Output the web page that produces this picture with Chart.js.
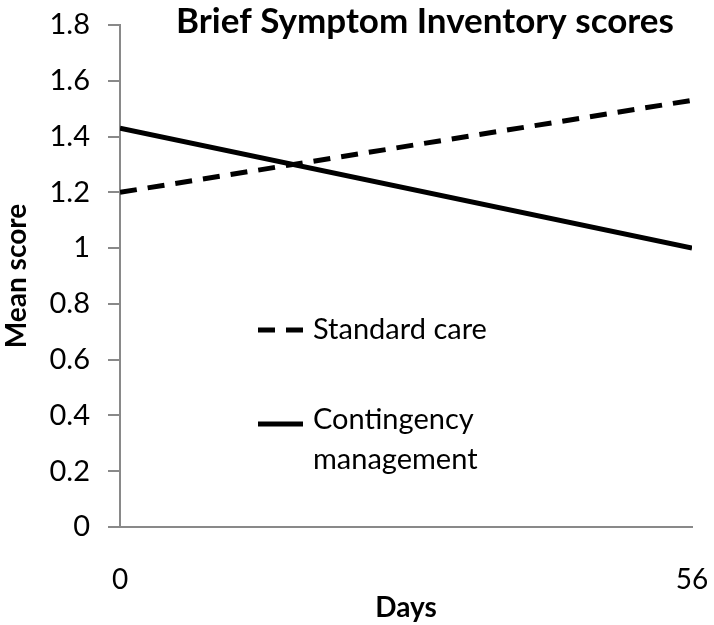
<!DOCTYPE html>
<html>
<head>
<meta charset="utf-8">
<script src="https://cdn.jsdelivr.net/npm/chart.js@4"></script>
<style>
  html, body { margin: 0; padding: 0; background: #fff; }
  #wrap { width: 714px; height: 625px; }
</style>
</head>
<body>
<div id="wrap"><canvas id="bsiChart" width="714" height="625"></canvas></div>
<script>
const days = [0, 56];
const standardCare = [1.2, 1.53];
const contingency = [1.43, 1.0];
const seriesNames = ['Standard care', ['Contingency', 'management']];
const xTicks = [0, 56];
const chartTitle = 'Brief Symptom Inventory scores';

const FONT = 'Lato, "Open Sans", sans-serif';
const axisGrey = '#898989';

// legend and title sit inside the plot area, so they are drawn by hand
const insideText = {
    id: 'insideText',
    afterDraw(chart) {
        const c = chart.ctx;
        c.save();
        c.fillStyle = '#000';
        c.font = 'bold 35px ' + FONT;
        c.textAlign = 'center';
        c.textBaseline = 'middle';
        c.fillText(chartTitle, 425, 22);

        c.font = '29px ' + FONT;
        c.textAlign = 'left';
        const rows = [{y: 330, lines: [330]}, {y: 424, lines: [420, 460]}];
        chart.data.datasets.forEach((ds, i) => {
            const r = rows[i];
            c.beginPath();
            c.strokeStyle = ds.borderColor;
            c.lineWidth = ds.borderWidth;
            c.setLineDash(ds.borderDash || []);
            c.moveTo(258, r.y);
            c.lineTo(303, r.y);
            c.stroke();
            c.setLineDash([]);
            const lbl = Array.isArray(ds.label) ? ds.label : [ds.label];
            lbl.forEach((t, k) => c.fillText(t, 313, r.lines[k]));
        });
        c.restore();
    }
};

new Chart(document.getElementById('bsiChart'), {
    type: 'line',
    data: {
        datasets: [{
            label: seriesNames[0],
            data: days.map((d, i) => ({x: d, y: standardCare[i]})),
            borderColor: '#000',
            borderWidth: 5,
            borderDash: [17, 11],
            pointRadius: 0
        }, {
            label: seriesNames[1],
            data: days.map((d, i) => ({x: d, y: contingency[i]})),
            borderColor: '#000',
            borderWidth: 5,
            pointRadius: 0
        }]
    },
    options: {
        responsive: false,
        animation: false,
        layout: {padding: {top: 25, right: 22, left: 0, bottom: 0}},
        plugins: {
            legend: {display: false},
            tooltip: {enabled: false}
        },
        scales: {
            x: {
                type: 'linear',
                min: 0,
                max: 56,
                afterBuildTicks: s => { s.ticks = xTicks.map(v => ({value: v})); },
                afterFit: s => { s.height = 98; s.paddingLeft = 0; s.paddingRight = 0; },
                ticks: {color: '#000', font: {family: FONT, size: 28}, padding: 36, maxRotation: 0},
                grid: {display: true, drawOnChartArea: false, drawTicks: false},
                border: {color: axisGrey, width: 2},
                title: {display: true, text: 'Days', color: '#000', font: {family: FONT, size: 28, weight: 'bold'}, padding: {top: 0, bottom: 0}}
            },
            y: {
                min: 0,
                max: 1.8,
                ticks: {stepSize: 0.2, color: '#000', font: {family: FONT, size: 29}, padding: 18,
                    callback: v => +v.toFixed(1)},
                afterFit: s => { s.width = 120; s.paddingTop = 0; s.paddingBottom = 0; },
                grid: {drawOnChartArea: false, drawTicks: true, tickLength: 12, color: axisGrey, lineWidth: 2},
                border: {color: axisGrey, width: 2},
                title: {display: true, text: 'Mean score', color: '#000', font: {family: FONT, size: 28, weight: 'bold'}, padding: {top: 0, bottom: 2}}
            }
        }
    },
    plugins: [insideText]
});
</script>
</body>
</html>
